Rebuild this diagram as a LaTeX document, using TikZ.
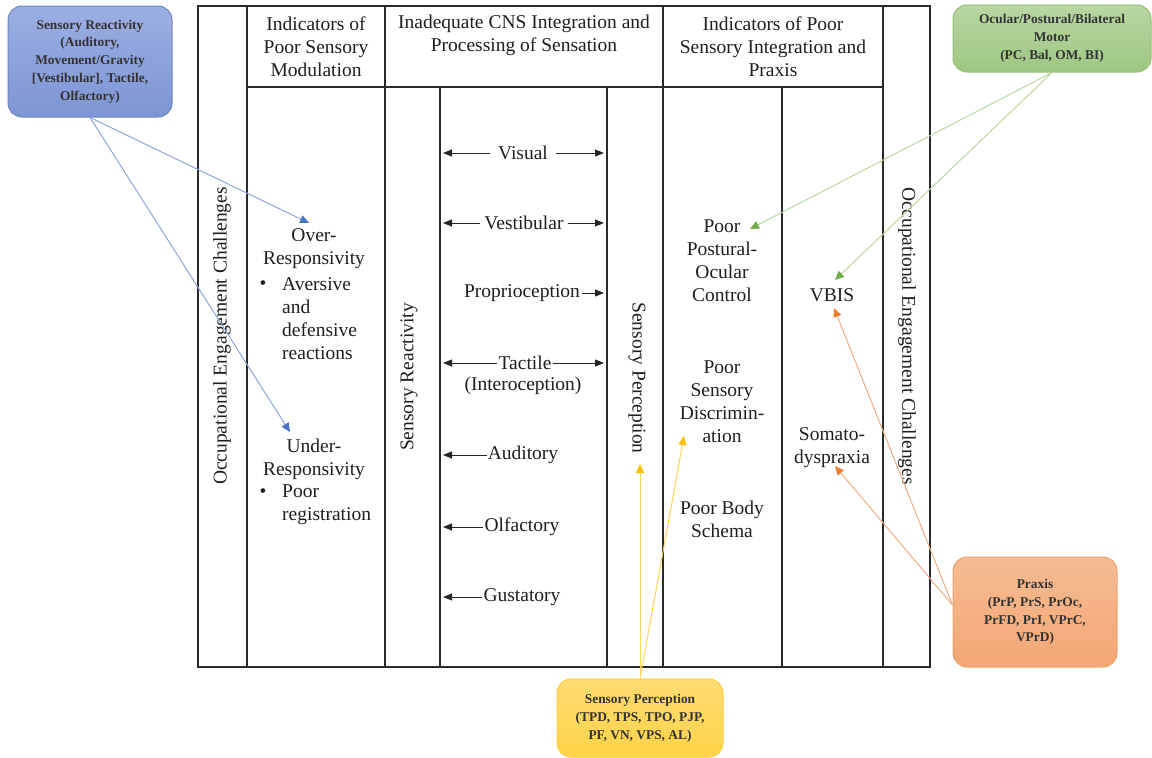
\documentclass[tikz,border=0pt]{standalone}
\usepackage{fontspec}
\setmainfont{Liberation Serif}
\usetikzlibrary{arrows.meta,positioning}

\definecolor{rulegray}{HTML}{2A2A2A}
\definecolor{blueline}{HTML}{8EA5DE}
\definecolor{bluetip}{HTML}{4472C4}
\definecolor{bluetop}{HTML}{9CAFE4}
\definecolor{bluebot}{HTML}{7D95D4}
\definecolor{greenline}{HTML}{B9D8A0}
\definecolor{greentip}{HTML}{70AD47}
\definecolor{yellowline}{HTML}{FFD45A}
\definecolor{yellowtip}{HTML}{FFC000}
\definecolor{orangeline}{HTML}{F4AB8A}
\definecolor{orangetip}{HTML}{ED7D31}

\tikzset{
	rule/.style={draw=rulegray, line width=1.6pt},
	txt/.style={font=\fontsize{19.5}{23}\selectfont, align=center, inner sep=2pt, text=black!88},
	sense/.style={txt, inner xsep=4pt},
	sensearrow/.style={-{Triangle[length=9pt,width=7pt]}, line width=1pt, black!85},
	callout/.style={rounded corners=14pt, line width=1pt, inner sep=0pt, align=center,
		font=\bfseries\fontsize{13.4}{17.8}\selectfont, text=black!80},
	link/.style 2 args={draw=#1, line width=1pt, -{Triangle[length=9pt,width=8pt,color=#2]}}
}

\begin{document}
\begin{tikzpicture}[x=1pt, y=-1pt]
	\useasboundingbox (0,0) rectangle (1152,758);
	%
	% table frame
	\draw[rule] (198,6) rectangle (930,667);
	\foreach \x in {247,385,663,883}
		\draw[rule] (\x,6) -- (\x,667);
	\draw[rule] (247,87) -- (883,87);
	\foreach \x in {440,607,782}
		\draw[rule] (\x,87) -- (\x,667);
	%
	% headers
	\node[txt] (h1) at (316,47) {Indicators of\\Poor Sensory\\Modulation};
	\node[txt] (h2) at (524,35) {Inadequate CNS Integration and\\Processing of Sensation};
	\node[txt] (h3) at (773,47) {Indicators of Poor\\Sensory Integration and\\Praxis};
	\node[txt, rotate=90] (oecl) at (222,336) {Occupational Engagement Challenges};
	\node[txt, rotate=-90] (oecr) at (907,336) {Occupational Engagement Challenges};
	\node[txt, rotate=90] (sreact) at (409,377) {Sensory Reactivity};
	\node[txt, rotate=-90] (sperc) at (637,378) {Sensory Perception};
	%
	% modulation column
	\node[txt] (over) at (314,249) {Over-\\Responsivity};
	\node[txt] (b1) at (263,285) {\textbullet};
	\node[txt, align=left, anchor=west] (aver) at (280,318.5) {Aversive\\and\\defensive\\reactions};
	\node[txt] (under) at (314,459) {Under-\\Responsivity};
	\node[txt] (b2) at (263,493) {\textbullet};
	\node[txt, align=left, anchor=west] (preg) at (280,505) {Poor\\registration};
	%
	% senses
	\coordinate (sl) at (443,0);
	\coordinate (sr) at (604,0);
	\node[sense, inner xsep=8pt] (vis) at (523,153) {Visual};
	\node[sense] (vest) at (524,223) {Vestibular};
	\node[sense, inner xsep=2pt] (prop) at (522,293) {Proprioception};
	\node[sense, inner xsep=1pt] (tact) at (525,363) {Tactile};
	\node[txt] (intero) at (523,386) {(Interoception)};
	\node[sense, inner xsep=1pt] (aud) at (523,455) {Auditory};
	\node[sense, inner xsep=1pt] (olf) at (522,527) {Olfactory};
	\node[sense, inner xsep=1pt] (gust) at (522,597) {Gustatory};
	\foreach \s in {vis,vest,tact}
		\draw[sensearrow] (\s.east) -- (\s.east -| sr);
	\draw[sensearrow] (prop.east) -- (prop.east -| sr);
	\foreach \s in {vis,vest,tact,aud,olf,gust}
		\draw[sensearrow] (\s.west) -- (\s.west -| sl);
	%
	% integration and praxis columns
	\node[txt] (ppoc) at (722,261) {Poor\\Postural-\\Ocular\\Control};
	\node[txt] (psd) at (722,402) {Poor\\Sensory\\Discrimin-\\ation};
	\node[txt] (pbs) at (722,519) {Poor Body\\Schema};
	\node[txt] (vbis) at (832,295) {VBIS};
	\node[txt] (somato) at (832,448) {Somato-\\dyspraxia};
	%
	% callouts
	\node[callout, draw=bluebot!90!black, top color=bluetop, bottom color=bluebot,
		minimum width=164pt, minimum height=111pt] (cr) at (90,61.5)
		{Sensory Reactivity\\(Auditory,\\Movement/Gravity\\{}[Vestibular], Tactile,\\Olfactory)};
	\node[callout, draw=greentip!75, top color=greentip!50, bottom color=greentip!68,
		minimum width=198pt, minimum height=67pt] (cm) at (1052,38.5)
		{Ocular/Postural/Bilateral\\Motor\\(PC, Bal, OM, BI)};
	\node[callout, draw=yellowtip!75, top color=yellowtip!55, bottom color=yellowtip!72,
		minimum width=166pt, minimum height=78pt] (cp) at (640,718)
		{Sensory Perception\\(TPD, TPS, TPO, PJP,\\PF, VN, VPS, AL)};
	\node[callout, draw=orangetip!70, top color=orangetip!52, bottom color=orangetip!68,
		minimum width=164pt, minimum height=110pt] (cx) at (1035,612)
		{Praxis\\(PrP, PrS, PrOc,\\PrFD, PrI, VPrC,\\VPrD)};
	%
	% arrow tips
	\coordinate (tover) at (309,223);
	\coordinate (tunder) at (290,432);
	\coordinate (tppoc) at (750,229);
	\coordinate (tvbis1) at (835,280);
	\coordinate (tperc) at (640,464);
	\coordinate (tpsd) at (684,436);
	\coordinate (tvbis2) at (834,308);
	\coordinate (tsomato) at (835,466);
	%
	\draw[link={blueline}{bluetip}] (cr.south) -- (tover);
	\draw[link={blueline}{bluetip}] (cr.south) -- (tunder);
	\draw[link={greenline}{greentip}] (cm.south) -- (tppoc);
	\draw[link={greenline}{greentip}] (cm.south) -- (tvbis1);
	\draw[link={yellowline}{yellowtip}] (cp.north) -- (tperc);
	\draw[link={yellowline}{yellowtip}] (cp.north) -- (tpsd);
	\draw[link={orangeline}{orangetip}] ([yshift=7pt]cx.west) -- (tvbis2);
	\draw[link={orangeline}{orangetip}] ([yshift=7pt]cx.west) -- (tsomato);
\end{tikzpicture}
\end{document}
